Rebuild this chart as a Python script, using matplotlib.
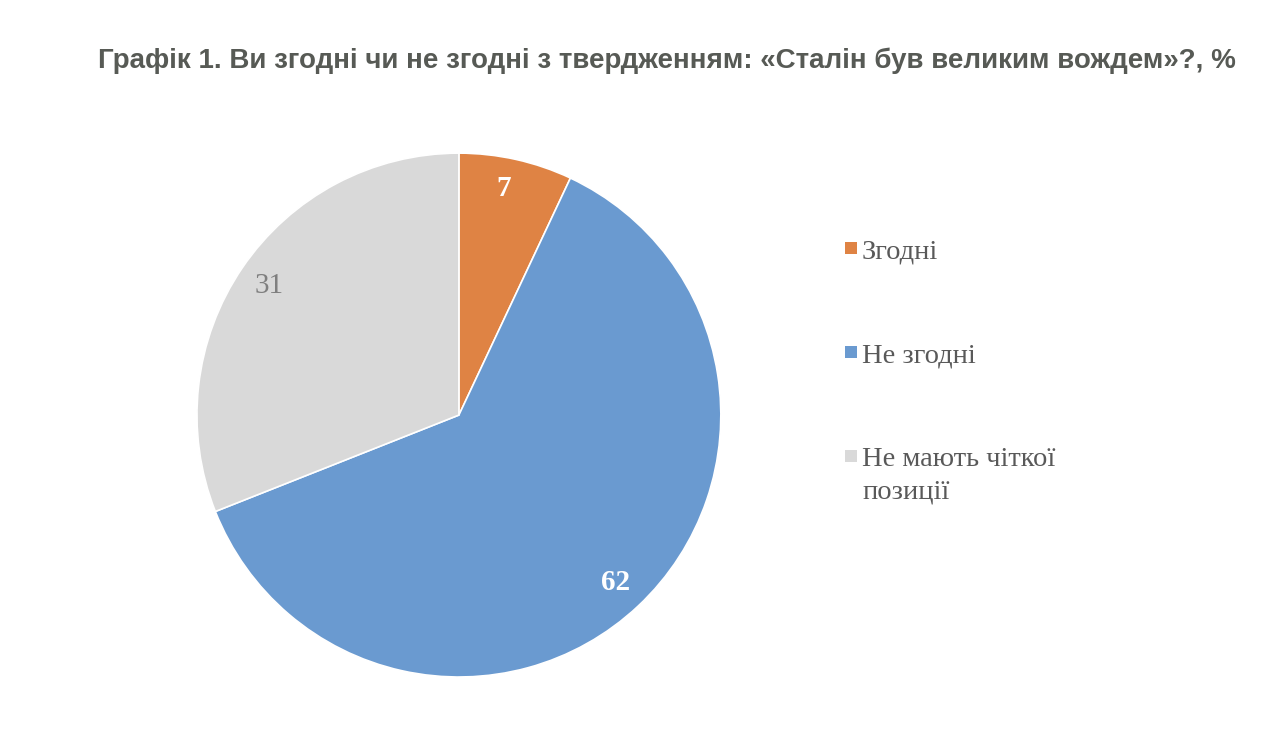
import matplotlib
matplotlib.use("Agg")
import matplotlib.pyplot as plt
from matplotlib.patches import Rectangle

# data
labels = ["Згодні", "Не згодні", "Не мають чіткої\nпозиції"]
values = [7, 62, 31]
colors = ["#DF8344", "#6A9AD0", "#D9D9D9"]
label_colors = ["white", "white", "#7F7F7F"]
label_weights = ["bold", "bold", "normal"]
title = "Графік 1. Ви згодні чи не згодні з твердженням: «Сталін був великим вождем»?, %"

text_gray = "#595959"

fig = plt.figure(figsize=(12.84, 7.40), dpi=100)
ax = fig.add_axes([0.1534, 0.0851, 0.408, 0.708])

wedges, texts = ax.pie(values, colors=colors, startangle=90, counterclock=False,
                       labels=[str(v) for v in values], labeldistance=0.875,
                       wedgeprops=dict(edgecolor="white", linewidth=1.2))
for w in wedges:
    w.set_clip_on(False)
for t, c, wt in zip(texts, label_colors, label_weights):
    t.set_color(c)
    t.set_fontweight(wt)
    t.set_fontsize(21)
    t.set_family("Liberation Serif")
    t.set_ha("center")
    t.set_va("center")
# the 7% label sits a little left of the wedge middle
x7, y7 = texts[0].get_position()
texts[0].set_position((x7 - 0.02, y7 + 0.01))
ax.set_xlim(-1, 1)
ax.set_ylim(-1, 1)
ax.set_aspect("equal")

fig.text(0.5195, 0.918, title, ha="center", va="center", fontsize=20,
         fontweight="bold", color="#575A55", family="Liberation Sans")

# legend drawn by hand to match the spacing
row_y = [248, 352, 456]
line_step = 33
for lab, col, y in zip(labels, colors, row_y):
    fy = 1 - y / 740
    fig.patches.append(Rectangle((845 / 1284, fy - 6 / 740), 12 / 1284, 12 / 740,
                                 transform=fig.transFigure, facecolor=col,
                                 edgecolor="none"))
    for i, line in enumerate(lab.split("\n")):
        base = y + 10 + i * line_step
        fig.text(862 / 1284, 1 - base / 740, line, ha="left", va="baseline",
                 fontsize=20.5, color=text_gray, family="Liberation Serif")

fig.savefig("out.png", dpi=100)
